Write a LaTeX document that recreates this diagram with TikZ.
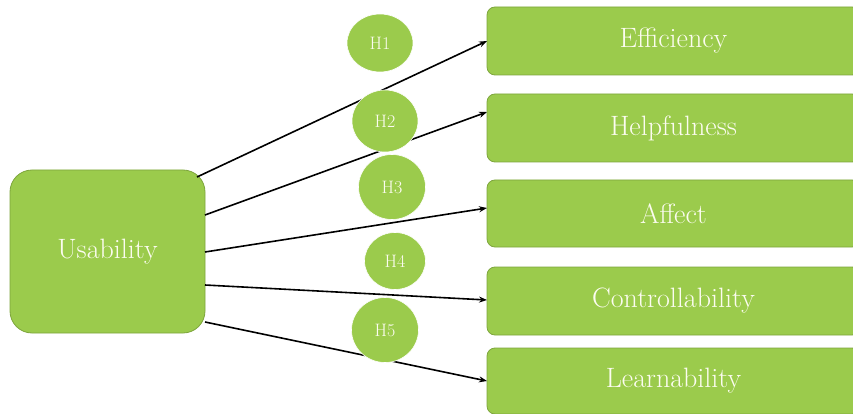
\documentclass[tikz,border=0pt]{standalone}
\usetikzlibrary{arrows.meta,shapes.geometric}
\definecolor{leaf}{RGB}{155,203,76}
\definecolor{leafedge}{RGB}{125,165,60}
\definecolor{ivory}{RGB}{252,252,240}
\tikzset{
  x=1pt, y=-1pt,
  bigbox/.style={draw=leafedge, line width=0.8pt, fill=leaf, rounded corners=22pt,
    text=ivory, font=\fontsize{28}{32}\selectfont},
  factor/.style={draw=leafedge, line width=0.8pt, fill=leaf, rounded corners=8pt,
    text=ivory, font=\fontsize{28}{32}\selectfont},
  hyp/.style={ellipse, fill=leaf, draw=white, line width=0.6pt, inner sep=0pt,
    text=ivory, font=\fontsize{18}{20}\selectfont},
  link/.style={-{Stealth[length=8pt,width=6pt]}, line width=1.6pt, black}
}
\begin{document}
\begin{tikzpicture}
\useasboundingbox (0,0) rectangle (853,414);
\clip (0,0) rectangle (853,414);

% source construct
\node[bigbox, minimum width=195pt, minimum height=163pt] (usab) at (107.5,251.5) {Usability};

% outcome constructs
\node[factor, minimum width=373pt, minimum height=68pt] (eff)  at (673.5,41)  {Efficiency};
\node[factor, minimum width=373pt, minimum height=68pt] (help) at (673.5,128) {Helpfulness};
\node[factor, minimum width=373pt, minimum height=67pt] (aff)  at (673.5,213.5) {Affect};
\node[factor, minimum width=373pt, minimum height=68pt] (ctrl) at (673.5,301) {Controllability};
\node[factor, minimum width=373pt, minimum height=66pt] (learn) at (673.5,381) {Learnability};

% arrow anchors on the boxes
\coordinate (s1) at (197,177);
\coordinate (s2) at (205,215);
\coordinate (s3) at (205,252);
\coordinate (s4) at (205,285);
\coordinate (s5) at (205,322);
\coordinate (t1) at (487,41);
\coordinate (t2) at (487,112);
\coordinate (t3) at (487,208);
\coordinate (t4) at (487,300);
\coordinate (t5) at (487,381);

\draw[link] (s1) -- (t1);
\draw[link] (s2) -- (t2);
\draw[link] (s3) -- (t3);
\draw[link] (s4) -- (t4);
\draw[link] (s5) -- (t5);

% hypothesis labels
\node[hyp, minimum width=66pt, minimum height=58pt] (h1) at (380,43)  {H1};
\node[hyp, minimum width=66pt, minimum height=62pt] (h2) at (385,121) {H2};
\node[hyp, minimum width=67pt, minimum height=65pt] (h3) at (392,187) {H3};
\node[hyp, minimum width=61pt, minimum height=57pt] (h4) at (395,261) {H4};
\node[hyp, minimum width=67pt, minimum height=65pt] (h5) at (385,330) {H5};
\end{tikzpicture}
\end{document}
